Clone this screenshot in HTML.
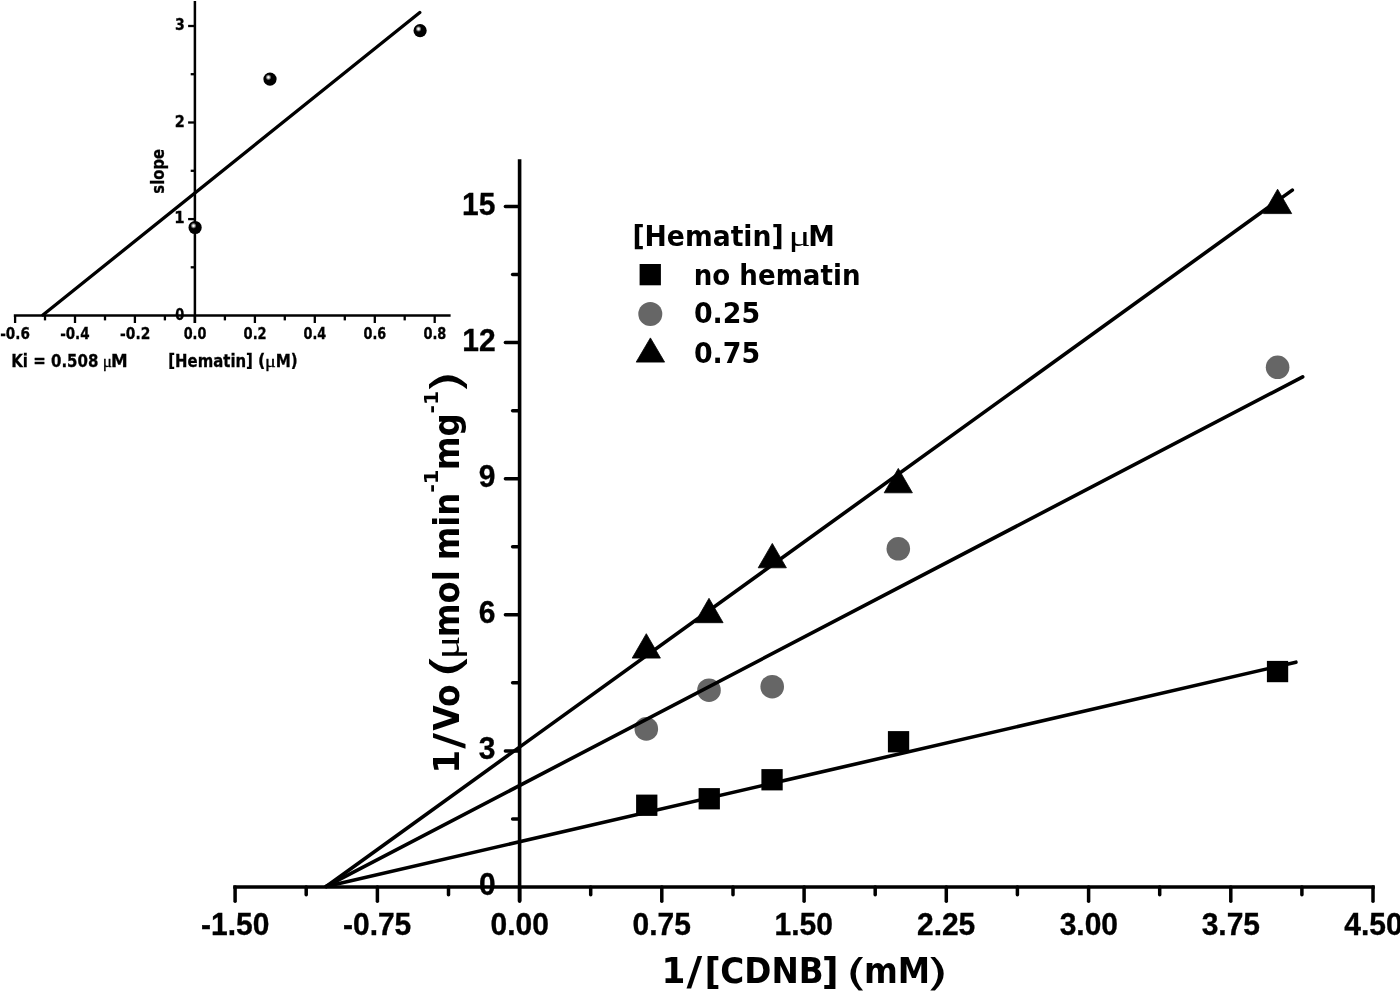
<!DOCTYPE html>
<html lang="en">
<head>
<meta charset="utf-8">
<title>Lineweaver-Burk plot: hematin inhibition</title>
<style>html,body{margin:0;padding:0;background:#fff;}body{width:1400px;height:991px;overflow:hidden;}svg{display:block;filter:blur(0.45px);}</style>
</head>
<body>
<svg width="1400" height="991" viewBox="0 0 1400 991">
<defs><radialGradient id="sph" cx="0.38" cy="0.365" r="0.23" fx="0.38" fy="0.365"><stop offset="0" stop-color="#ffffff"/><stop offset="0.25" stop-color="#f4f4f4"/><stop offset="0.6" stop-color="#808080"/><stop offset="1" stop-color="#000000"/></radialGradient></defs>
<rect width="1400" height="991" fill="#ffffff"/>
<g id="inset-axes" stroke="#000" fill="none" stroke-linecap="butt">
<line x1="194.9" y1="1" x2="194.9" y2="323.0" stroke-width="2.5"/>
<line x1="13.8" y1="315.6" x2="450.6" y2="315.6" stroke-width="2.5"/>
<line x1="15.1" y1="315.6" x2="15.1" y2="323.0" stroke-width="2.3"/>
<line x1="45.0" y1="315.6" x2="45.0" y2="320.4" stroke-width="2.3"/>
<line x1="75.0" y1="315.6" x2="75.0" y2="323.0" stroke-width="2.3"/>
<line x1="105.0" y1="315.6" x2="105.0" y2="320.4" stroke-width="2.3"/>
<line x1="134.9" y1="315.6" x2="134.9" y2="323.0" stroke-width="2.3"/>
<line x1="164.9" y1="315.6" x2="164.9" y2="320.4" stroke-width="2.3"/>
<line x1="194.9" y1="315.6" x2="194.9" y2="323.0" stroke-width="2.3"/>
<line x1="224.9" y1="315.6" x2="224.9" y2="320.4" stroke-width="2.3"/>
<line x1="254.9" y1="315.6" x2="254.9" y2="323.0" stroke-width="2.3"/>
<line x1="284.8" y1="315.6" x2="284.8" y2="320.4" stroke-width="2.3"/>
<line x1="314.8" y1="315.6" x2="314.8" y2="323.0" stroke-width="2.3"/>
<line x1="344.8" y1="315.6" x2="344.8" y2="320.4" stroke-width="2.3"/>
<line x1="374.8" y1="315.6" x2="374.8" y2="323.0" stroke-width="2.3"/>
<line x1="404.7" y1="315.6" x2="404.7" y2="320.4" stroke-width="2.3"/>
<line x1="434.7" y1="315.6" x2="434.7" y2="323.0" stroke-width="2.3"/>
<line x1="190.7" y1="267.3" x2="194.9" y2="267.3" stroke-width="2.3"/>
<line x1="188.1" y1="219.1" x2="194.9" y2="219.1" stroke-width="2.3"/>
<line x1="190.7" y1="170.8" x2="194.9" y2="170.8" stroke-width="2.3"/>
<line x1="188.1" y1="122.5" x2="194.9" y2="122.5" stroke-width="2.3"/>
<line x1="190.7" y1="74.2" x2="194.9" y2="74.2" stroke-width="2.3"/>
<line x1="188.1" y1="26.0" x2="194.9" y2="26.0" stroke-width="2.3"/>
<line x1="42.9" y1="315.0" x2="419.8" y2="12.5" stroke-width="3.3" stroke-linecap="round"/>
</g>
<circle cx="195.1" cy="227.5" r="6.6" fill="url(#sph)"/>
<circle cx="270.0" cy="79.1" r="6.6" fill="url(#sph)"/>
<circle cx="420.1" cy="30.7" r="6.6" fill="url(#sph)"/>
<g id="inset-text" fill="#000">
<text transform="translate(175.17,320.00) scale(0.8526,1)" font-size="15.2" font-family='"DejaVu Sans","Liberation Sans",sans-serif' font-weight='bold' stroke='#000' stroke-width='0.3'>0</text>
<text transform="translate(174.13,223.45) scale(0.9818,1)" font-size="15.2" font-family='"DejaVu Sans","Liberation Sans",sans-serif' font-weight='bold' stroke='#000' stroke-width='0.3'>1</text>
<text transform="translate(174.65,126.90) scale(0.9529,1)" font-size="15.2" font-family='"DejaVu Sans","Liberation Sans",sans-serif' font-weight='bold' stroke='#000' stroke-width='0.3'>2</text>
<text transform="translate(174.91,30.35) scale(0.9257,1)" font-size="15.2" font-family='"DejaVu Sans","Liberation Sans",sans-serif' font-weight='bold' stroke='#000' stroke-width='0.3'>3</text>
<text transform="translate(0.18,339.10) scale(0.8945,1)" font-size="15.2" font-family='"DejaVu Sans","Liberation Sans",sans-serif' font-weight='bold' stroke='#000' stroke-width='0.3'>-0.6</text>
<text transform="translate(60.13,339.10) scale(0.8875,1)" font-size="15.2" font-family='"DejaVu Sans","Liberation Sans",sans-serif' font-weight='bold' stroke='#000' stroke-width='0.3'>-0.4</text>
<text transform="translate(120.07,339.10) scale(0.9088,1)" font-size="15.2" font-family='"DejaVu Sans","Liberation Sans",sans-serif' font-weight='bold' stroke='#000' stroke-width='0.3'>-0.2</text>
<text transform="translate(183.63,339.10) scale(0.8427,1)" font-size="15.2" font-family='"DejaVu Sans","Liberation Sans",sans-serif' font-weight='bold' stroke='#000' stroke-width='0.3'>0.0</text>
<text transform="translate(243.57,339.10) scale(0.8594,1)" font-size="15.2" font-family='"DejaVu Sans","Liberation Sans",sans-serif' font-weight='bold' stroke='#000' stroke-width='0.3'>0.2</text>
<text transform="translate(303.53,339.10) scale(0.8427,1)" font-size="15.2" font-family='"DejaVu Sans","Liberation Sans",sans-serif' font-weight='bold' stroke='#000' stroke-width='0.3'>0.4</text>
<text transform="translate(363.48,339.10) scale(0.8427,1)" font-size="15.2" font-family='"DejaVu Sans","Liberation Sans",sans-serif' font-weight='bold' stroke='#000' stroke-width='0.3'>0.6</text>
<text transform="translate(423.42,339.10) scale(0.8510,1)" font-size="15.2" font-family='"DejaVu Sans","Liberation Sans",sans-serif' font-weight='bold' stroke='#000' stroke-width='0.3'>0.8</text>
<text transform="translate(164.20,193.63) rotate(-90) scale(0.8425,1)" font-size="17.6" font-family='"DejaVu Sans","Liberation Sans",sans-serif' font-weight='bold' stroke='#000' stroke-width='0.3'>slope</text>
<g aria-label="Ki = 0.508 μM"><text transform="translate(11.26,366.80) scale(0.8934,1)" font-size="16.8" font-family='"DejaVu Sans","Liberation Sans",sans-serif' font-weight='bold' stroke='#000' stroke-width='0.3'>Ki = 0.508</text> <text transform="translate(102.72,366.80) scale(1.0207,1)" font-size="16.8" font-family='"Liberation Serif","DejaVu Serif",serif' font-weight='normal' stroke='#000' stroke-width='0.3'>μ</text><text transform="translate(111.11,366.80) scale(0.9964,1)" font-size="16.8" font-family='"DejaVu Sans","Liberation Sans",sans-serif' font-weight='bold' stroke='#000' stroke-width='0.3'>M</text></g>
<g aria-label="[Hematin] (μM)"><text transform="translate(168.29,366.80) scale(0.8873,1)" font-size="16.8" font-family='"DejaVu Sans","Liberation Sans",sans-serif' font-weight='bold' stroke='#000' stroke-width='0.3'>[Hematin]</text> <text transform="translate(258.11,366.80) scale(0.9524,1)" font-size="16.8" font-family='"DejaVu Sans","Liberation Sans",sans-serif' font-weight='bold' stroke='#000' stroke-width='0.3'>(</text><text transform="translate(265.10,366.80) scale(1.2000,1)" font-size="16.8" font-family='"Liberation Serif","DejaVu Serif",serif' font-weight='normal' stroke='#000' stroke-width='0.3'>μ</text><text transform="translate(275.65,366.80) scale(0.9023,1)" font-size="16.8" font-family='"DejaVu Sans","Liberation Sans",sans-serif' font-weight='bold' stroke='#000' stroke-width='0.3'>M)</text></g>
</g>
<g id="main-axes" stroke="#000" fill="none" stroke-linecap="butt">
<line x1="519.6" y1="159.2" x2="519.6" y2="901.0" stroke-width="3.6"/>
<line x1="233.2" y1="886.95" x2="1374.8" y2="886.95" stroke-width="3.6"/>
<g stroke-width="3.5" stroke-linecap="round">
<line x1="235.1" y1="886.95" x2="235.1" y2="901.2"/>
<line x1="306.2" y1="886.95" x2="306.2" y2="894.7"/>
<line x1="377.4" y1="886.95" x2="377.4" y2="901.2"/>
<line x1="448.5" y1="886.95" x2="448.5" y2="894.7"/>
<line x1="519.6" y1="886.95" x2="519.6" y2="901.2"/>
<line x1="590.7" y1="886.95" x2="590.7" y2="894.7"/>
<line x1="661.8" y1="886.95" x2="661.8" y2="901.2"/>
<line x1="733.0" y1="886.95" x2="733.0" y2="894.7"/>
<line x1="804.1" y1="886.95" x2="804.1" y2="901.2"/>
<line x1="875.2" y1="886.95" x2="875.2" y2="894.7"/>
<line x1="946.3" y1="886.95" x2="946.3" y2="901.2"/>
<line x1="1017.4" y1="886.95" x2="1017.4" y2="894.7"/>
<line x1="1088.6" y1="886.95" x2="1088.6" y2="901.2"/>
<line x1="1159.7" y1="886.95" x2="1159.7" y2="894.7"/>
<line x1="1230.8" y1="886.95" x2="1230.8" y2="901.2"/>
<line x1="1301.9" y1="886.95" x2="1301.9" y2="894.7"/>
<line x1="1373.0" y1="886.95" x2="1373.0" y2="901.2"/>
<line x1="512.6" y1="818.9" x2="518.6" y2="818.9"/>
<line x1="505.4" y1="750.9" x2="518.6" y2="750.9"/>
<line x1="512.6" y1="682.8" x2="518.6" y2="682.8"/>
<line x1="505.4" y1="614.8" x2="518.6" y2="614.8"/>
<line x1="512.6" y1="546.8" x2="518.6" y2="546.8"/>
<line x1="505.4" y1="478.7" x2="518.6" y2="478.7"/>
<line x1="512.6" y1="410.7" x2="518.6" y2="410.7"/>
<line x1="505.4" y1="342.6" x2="518.6" y2="342.6"/>
<line x1="512.6" y1="274.6" x2="518.6" y2="274.6"/>
<line x1="505.4" y1="206.6" x2="518.6" y2="206.6"/>
</g>
</g>
<g id="markers">
<rect x="636.1" y="794.6" width="21.3" height="21.3" fill="#000"/>
<rect x="698.6" y="788.1" width="21.3" height="21.3" fill="#000"/>
<rect x="761.4" y="769.1" width="21.3" height="21.3" fill="#000"/>
<rect x="887.9" y="731.1" width="21.3" height="21.3" fill="#000"/>
<rect x="1266.9" y="660.9" width="21.3" height="21.3" fill="#000"/>
<circle cx="646.3" cy="728.9" r="11.8" fill="#666666"/>
<circle cx="709.0" cy="690.2" r="11.8" fill="#666666"/>
<circle cx="772.2" cy="686.7" r="11.8" fill="#666666"/>
<circle cx="898.3" cy="548.8" r="11.8" fill="#666666"/>
<circle cx="1277.6" cy="367.3" r="11.8" fill="#666666"/>
<polygon points="646.3,633.7 660.4,658.1 632.2,658.1" fill="#000" stroke="#000" stroke-width="0.8" stroke-linejoin="round"/>
<polygon points="709.0,598.3 723.1,622.7 694.9,622.7" fill="#000" stroke="#000" stroke-width="0.8" stroke-linejoin="round"/>
<polygon points="772.3,543.4 786.4,567.8 758.2,567.8" fill="#000" stroke="#000" stroke-width="0.8" stroke-linejoin="round"/>
<polygon points="898.3,468.4 912.4,492.8 884.2,492.8" fill="#000" stroke="#000" stroke-width="0.8" stroke-linejoin="round"/>
<polygon points="1277.6,189.2 1291.7,213.6 1263.5,213.6" fill="#000" stroke="#000" stroke-width="0.8" stroke-linejoin="round"/>
<rect x="639.6" y="264.0" width="21.3" height="21.3" fill="#000"/>
<circle cx="650.3" cy="314.0" r="12.0" fill="#666666"/>
<polygon points="650.4,337.9 664.6,362.1 636.2,362.1" fill="#000" stroke="#000" stroke-width="0.8" stroke-linejoin="round"/>
</g>
<g id="fit-lines" stroke="#000" fill="none" stroke-width="3.6" stroke-linecap="round">
<line x1="326.2" y1="886.45" x2="1292.3" y2="190.1"/>
<line x1="326.2" y1="886.45" x2="1302.7" y2="376.8"/>
<line x1="326.2" y1="886.45" x2="1295.9" y2="662.2"/>
</g>
<g id="main-text" fill="#000">
<text transform="translate(479.03,895.25) scale(0.958,1)" font-size="31.3" font-family='"Liberation Sans","DejaVu Sans",sans-serif' font-weight='bold' stroke='#000' stroke-width='0.35'>0</text>
<text transform="translate(478.79,759.17) scale(0.958,1)" font-size="31.3" font-family='"Liberation Sans","DejaVu Sans",sans-serif' font-weight='bold' stroke='#000' stroke-width='0.35'>3</text>
<text transform="translate(478.79,623.09) scale(0.958,1)" font-size="31.3" font-family='"Liberation Sans","DejaVu Sans",sans-serif' font-weight='bold' stroke='#000' stroke-width='0.35'>6</text>
<text transform="translate(478.79,487.01) scale(0.958,1)" font-size="31.3" font-family='"Liberation Sans","DejaVu Sans",sans-serif' font-weight='bold' stroke='#000' stroke-width='0.35'>9</text>
<text transform="translate(462.27,350.93) scale(0.958,1)" font-size="31.3" font-family='"Liberation Sans","DejaVu Sans",sans-serif' font-weight='bold' stroke='#000' stroke-width='0.35'>12</text>
<text transform="translate(462.03,214.85) scale(0.958,1)" font-size="31.3" font-family='"Liberation Sans","DejaVu Sans",sans-serif' font-weight='bold' stroke='#000' stroke-width='0.35'>15</text>
<text transform="translate(201.00,934.70) scale(0.9580,1)" font-size="31.3" font-family='"Liberation Sans","DejaVu Sans",sans-serif' font-weight='bold' stroke='#000' stroke-width='0.35'>-1.50</text>
<text transform="translate(342.99,934.70) scale(0.9580,1)" font-size="31.3" font-family='"Liberation Sans","DejaVu Sans",sans-serif' font-weight='bold' stroke='#000' stroke-width='0.35'>-0.75</text>
<text transform="translate(490.50,934.70) scale(0.9580,1)" font-size="31.3" font-family='"Liberation Sans","DejaVu Sans",sans-serif' font-weight='bold' stroke='#000' stroke-width='0.35'>0.00</text>
<text transform="translate(632.50,934.70) scale(0.9580,1)" font-size="31.3" font-family='"Liberation Sans","DejaVu Sans",sans-serif' font-weight='bold' stroke='#000' stroke-width='0.35'>0.75</text>
<text transform="translate(774.62,934.70) scale(0.9580,1)" font-size="31.3" font-family='"Liberation Sans","DejaVu Sans",sans-serif' font-weight='bold' stroke='#000' stroke-width='0.35'>1.50</text>
<text transform="translate(916.97,934.70) scale(0.9580,1)" font-size="31.3" font-family='"Liberation Sans","DejaVu Sans",sans-serif' font-weight='bold' stroke='#000' stroke-width='0.35'>2.25</text>
<text transform="translate(1059.69,934.70) scale(0.9580,1)" font-size="31.3" font-family='"Liberation Sans","DejaVu Sans",sans-serif' font-weight='bold' stroke='#000' stroke-width='0.35'>3.00</text>
<text transform="translate(1201.69,934.70) scale(0.9580,1)" font-size="31.3" font-family='"Liberation Sans","DejaVu Sans",sans-serif' font-weight='bold' stroke='#000' stroke-width='0.35'>3.75</text>
<text transform="translate(1344.29,934.70) scale(0.9580,1)" font-size="31.3" font-family='"Liberation Sans","DejaVu Sans",sans-serif' font-weight='bold' stroke='#000' stroke-width='0.35'>4.50</text>
<g aria-label="1/[CDNB] (mM)"><text transform="translate(661.42,982.70) scale(0.9699,1)" font-size="35.4" font-family='"DejaVu Sans","Liberation Sans",sans-serif' font-weight='bold'>1</text><text transform="translate(686.40,985.36) scale(1.2157,1.1207)" font-size="35.4" font-family='"DejaVu Sans","Liberation Sans",sans-serif' font-weight='bold'>/</text><text transform="translate(704.59,984.78) scale(1.0047,1.0571)" font-size="35.4" font-family='"DejaVu Sans","Liberation Sans",sans-serif' font-weight='bold'>[</text><text transform="translate(720.28,982.70) scale(0.9234,1)" font-size="35.4" font-family='"DejaVu Sans","Liberation Sans",sans-serif' font-weight='bold'>CDNB</text><text transform="translate(821.70,984.78) scale(1.0419,1.0571)" font-size="35.4" font-family='"DejaVu Sans","Liberation Sans",sans-serif' font-weight='bold'>]</text> <text transform="translate(845.50,984.83) scale(1.6000,1.0667)" font-size="35.4" font-family='"DejaVu Sans","Liberation Sans",sans-serif' font-weight='normal'>(</text><text transform="translate(864.05,982.70) scale(0.9171,1)" font-size="35.4" font-family='"DejaVu Sans","Liberation Sans",sans-serif' font-weight='bold'>mM</text><text transform="translate(925.53,984.83) scale(1.6903,1.0667)" font-size="35.4" font-family='"DejaVu Sans","Liberation Sans",sans-serif' font-weight='normal'>)</text></g>
<g aria-label="1/Vo (μmol min-1 mg-1)"><text transform="translate(459.00,773.78) rotate(-90) scale(0.9699,1)" font-size="35.4" font-family='"DejaVu Sans","Liberation Sans",sans-serif' font-weight='bold'>1</text><text transform="translate(461.56,748.70) rotate(-90) scale(1.2157,1.1207)" font-size="35.4" font-family='"DejaVu Sans","Liberation Sans",sans-serif' font-weight='bold'>/</text><text transform="translate(459.00,730.63) rotate(-90) scale(0.9271,1)" font-size="35.4" font-family='"DejaVu Sans","Liberation Sans",sans-serif' font-weight='bold'>Vo</text> <text transform="translate(461.71,678.96) rotate(-90) scale(1.6457,1.0648)" font-size="40" font-family='"DejaVu Sans","Liberation Sans",sans-serif' font-weight='normal'>(</text><text transform="translate(459.00,659.25) rotate(-90) scale(1.2552,1)" font-size="35" font-family='"Liberation Serif","DejaVu Serif",serif' font-weight='normal'>μ</text><text transform="translate(459.00,637.24) rotate(-90) scale(0.9145,1)" font-size="35.4" font-family='"DejaVu Sans","Liberation Sans",sans-serif' font-weight='bold'>mol</text> <text transform="translate(459.00,560.33) rotate(-90) scale(0.9109,1)" font-size="35.4" font-family='"DejaVu Sans","Liberation Sans",sans-serif' font-weight='bold'>min</text><text transform="translate(437.80,492.87) rotate(-90) scale(1.0718,1)" font-size="19.6" font-family='"DejaVu Sans","Liberation Sans",sans-serif' font-weight='bold'>-1</text> <text transform="translate(459.00,470.36) rotate(-90) scale(0.9191,1)" font-size="35.4" font-family='"DejaVu Sans","Liberation Sans",sans-serif' font-weight='bold'>mg</text><text transform="translate(437.80,413.44) rotate(-90) scale(1.0359,1)" font-size="19.6" font-family='"DejaVu Sans","Liberation Sans",sans-serif' font-weight='bold'>-1</text><text transform="translate(461.67,394.29) rotate(-90) scale(1.5667,1.0535)" font-size="40" font-family='"DejaVu Sans","Liberation Sans",sans-serif' font-weight='normal'>)</text></g>
<g aria-label="[Hematin] μM"><text transform="translate(632.40,245.60) scale(0.9189,1)" font-size="29" font-family='"DejaVu Sans","Liberation Sans",sans-serif' font-weight='bold'>[Hematin]</text> <text transform="translate(788.39,245.60) scale(1.4250,1)" font-size="29" font-family='"Liberation Serif","DejaVu Serif",serif' font-weight='normal'>μ</text><text transform="translate(808.27,245.60) scale(0.9191,1)" font-size="29" font-family='"DejaVu Sans","Liberation Sans",sans-serif' font-weight='bold'>M</text></g>
<text transform="translate(693.75,284.50) scale(0.9008,1)" font-size="29" font-family='"DejaVu Sans","Liberation Sans",sans-serif' font-weight='bold'>no hematin</text>
<text transform="translate(693.91,322.90) scale(0.9265,1)" font-size="29" font-family='"DejaVu Sans","Liberation Sans",sans-serif' font-weight='bold'>0.25</text>
<text transform="translate(693.91,362.70) scale(0.9265,1)" font-size="29" font-family='"DejaVu Sans","Liberation Sans",sans-serif' font-weight='bold'>0.75</text>
</g>
</svg>
</body>
</html>
